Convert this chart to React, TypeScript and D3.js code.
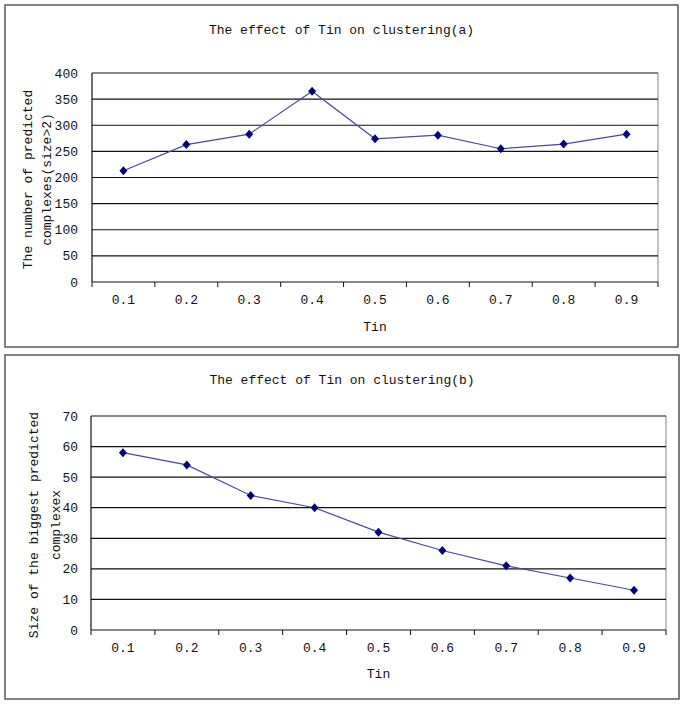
import React from "react";
import * as d3 from "d3";

// x categories (Tin threshold)
const tinLabels = ["0.1", "0.2", "0.3", "0.4", "0.5", "0.6", "0.7", "0.8", "0.9"];

// (a) number of predicted complexes (size>2)
const complexCounts = [213, 263, 283, 365, 274, 281, 255, 264, 283];
const countTicks = [0, 50, 100, 150, 200, 250, 300, 350, 400];

// (b) size of the biggest predicted complex
const biggestSizes = [58, 54, 44, 40, 32, 26, 21, 17, 13];
const sizeTicks = [0, 10, 20, 30, 40, 50, 60, 70];

const FONT = "'Liberation Mono', 'DejaVu Sans Mono', monospace";

function Panel({ box, plot, title, titleY, yLines, values, ticks, yMax, tickLabelY, xTitleY }) {
  const x = d3.scaleBand().domain(tinLabels).range([plot.left, plot.right]);
  const y = d3.scaleLinear().domain([0, yMax]).range([plot.bottom, plot.top]);

  const line = d3
    .line()
    .x((d, i) => x(tinLabels[i]) + x.bandwidth() / 2)
    .y((d) => y(d));

  const cx = (box.left + box.right) / 2;
  const bounds = d3.range(tinLabels.length + 1).map((i) => plot.left + i * x.step());

  return (
    <g>
      <rect x={box.left} y={box.top} width={box.right - box.left} height={box.bottom - box.top}
        fill="#fff" stroke="#555" strokeWidth={1.5} />
      <text x={cx} y={titleY} dy="0.35em" textAnchor="middle" fontFamily={FONT} fontSize={13} fill="#111">{title}</text>

      {/* plot frame right side */}
      <line x1={plot.right} x2={plot.right} y1={plot.top} y2={plot.bottom} stroke="#999" strokeWidth={1.2} />

      {/* gridlines */}
      {ticks.filter((t) => t > 0).map((t) => (
        <line key={t} x1={plot.left} x2={plot.right} y1={y(t)} y2={y(t)} stroke="#111" strokeWidth={1.2} />
      ))}

      {/* axes */}
      <line x1={plot.left} x2={plot.left} y1={plot.top} y2={plot.bottom} stroke="#111" strokeWidth={1.2} />
      <line x1={plot.left} x2={plot.right} y1={plot.bottom} y2={plot.bottom} stroke="#111" strokeWidth={1.2} />
      {bounds.map((bx, i) => (
        <line key={i} x1={bx} x2={bx} y1={plot.bottom} y2={plot.bottom + 5} stroke="#111" strokeWidth={1} />
      ))}

      {ticks.map((t) => (
        <text key={t} x={78} y={y(t)} dy="0.35em" textAnchor="end" fontFamily={FONT} fontSize={13} fill="#111">{t}</text>
      ))}
      {tinLabels.map((l) => (
        <text key={l} x={x(l) + x.bandwidth() / 2} y={tickLabelY} dy="0.35em" textAnchor="middle"
          fontFamily={FONT} fontSize={13} fill="#111">{l}</text>
      ))}
      <text x={x(tinLabels[4]) + x.bandwidth() / 2} y={xTitleY} dy="0.35em" textAnchor="middle"
        fontFamily={FONT} fontSize={13} fill="#111">Tin</text>

      {yLines.map((ln, i) => (
        <text key={i} transform={`translate(${ln.x},${(plot.top + plot.bottom) / 2 + 2}) rotate(-90)`}
          dy="0.35em" textAnchor="middle" fontFamily={FONT} fontSize={13} fill="#111">{ln.text}</text>
      ))}

      <path d={line(values)} fill="none" stroke="#4848a8" strokeWidth={1.2} />
      {values.map((v, i) => {
        const px = x(tinLabels[i]) + x.bandwidth() / 2;
        const py = y(v);
        return (
          <path key={i} d={`M${px},${py - 4.5}L${px + 4},${py}L${px},${py + 4.5}L${px - 4},${py}Z`} fill="#000080" />
        );
      })}
    </g>
  );
}

export default function App() {
  return (
    <svg width={685} height={704} style={{ position: "absolute", left: 0, top: 0, background: "#fff" }}>
      <Panel
        box={{ left: 5, top: 5, right: 678, bottom: 347 }}
        plot={{ left: 92, right: 658, top: 73, bottom: 282 }}
        title="The effect of Tin on clustering(a)"
        titleY={29}
        yLines={[{ x: 27, text: "The number of predicted" }, { x: 46, text: "complexes(size>2)" }]}
        values={complexCounts}
        ticks={countTicks}
        yMax={400}
        tickLabelY={299}
        xTitleY={326}
      />
      <Panel
        box={{ left: 5, top: 355, right: 679, bottom: 699 }}
        plot={{ left: 91, right: 666, top: 416, bottom: 630 }}
        title="The effect of Tin on clustering(b)"
        titleY={379}
        yLines={[{ x: 33, text: "Size of the biggest predicted" }, { x: 55, text: "complexex" }]}
        values={biggestSizes}
        ticks={sizeTicks}
        yMax={70}
        tickLabelY={647}
        xTitleY={673}
      />
    </svg>
  );
}
